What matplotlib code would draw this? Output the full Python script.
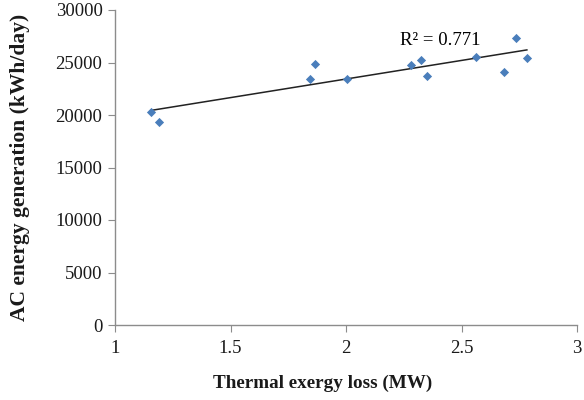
import numpy as np
import matplotlib
matplotlib.use("Agg")
import matplotlib.pyplot as plt

x_loss = [1.155, 1.192, 1.843, 1.866, 2.005, 2.28, 2.326, 2.352, 2.562, 2.685, 2.734, 2.783]
ac_gen = [20260, 19300, 23460, 24890, 23460, 24760, 25240, 23680, 25490, 24060, 27370, 25460]
x_ticks = [1, 1.5, 2, 2.5, 3]
y_ticks = [0, 5000, 10000, 15000, 20000, 25000, 30000]
r2_label = "R² = 0.771"

plt.rcParams['font.family'] = ['Liberation Serif', 'DejaVu Serif']

fig = plt.figure(figsize=(5.84, 4.0), dpi=100)
ax = fig.add_axes([115/584, 75/400, 462/584, 315/400])

ax.scatter(x_loss, ac_gen, marker='D', s=22, color='#4a7ebb', zorder=3, linewidths=0)
coef = np.polyfit(x_loss, ac_gen, 1)
xs = np.array([min(x_loss), max(x_loss)])
ax.plot(xs, np.polyval(coef, xs), color='#222222', lw=1.1, zorder=2)

ax.text(2.235, 27100, r2_label, fontsize=13.5, va='center', ha='left')

ax.set_xlim(1, 3)
ax.set_ylim(0, 30000)
ax.set_xticks(x_ticks)
ax.set_xticklabels(['1', '1.5', '2', '2.5', '3'])
ax.set_yticks(y_ticks)
ax.set_yticklabels([str(v) for v in y_ticks])

for s in ['top', 'right']:
    ax.spines[s].set_visible(False)
for s in ['left', 'bottom']:
    ax.spines[s].set_color('#8c8c8c')
    ax.spines[s].set_linewidth(1.0)
ax.tick_params(axis='both', colors='#8c8c8c', labelcolor='#1a1a1a', labelsize=13.5, length=5, direction='out')
ax.tick_params(axis='x', pad=6)
ax.tick_params(axis='y', pad=4)

ax.set_xlabel('Thermal exergy loss (MW)', fontsize=13.8, fontweight='bold', color='#1a1a1a')
ax.set_ylabel('AC energy generation (kWh/day)', fontsize=15.5, fontweight='bold', color='#1a1a1a')
ax.xaxis.set_label_coords((323-115)/462, -(383-325)/315)
ax.yaxis.set_label_coords(-(115-20)/462, (325-167.5)/315)
ax.xaxis.label.set_va('center')
ax.yaxis.label.set_va('center')

fig.savefig('out.png', dpi=100)
